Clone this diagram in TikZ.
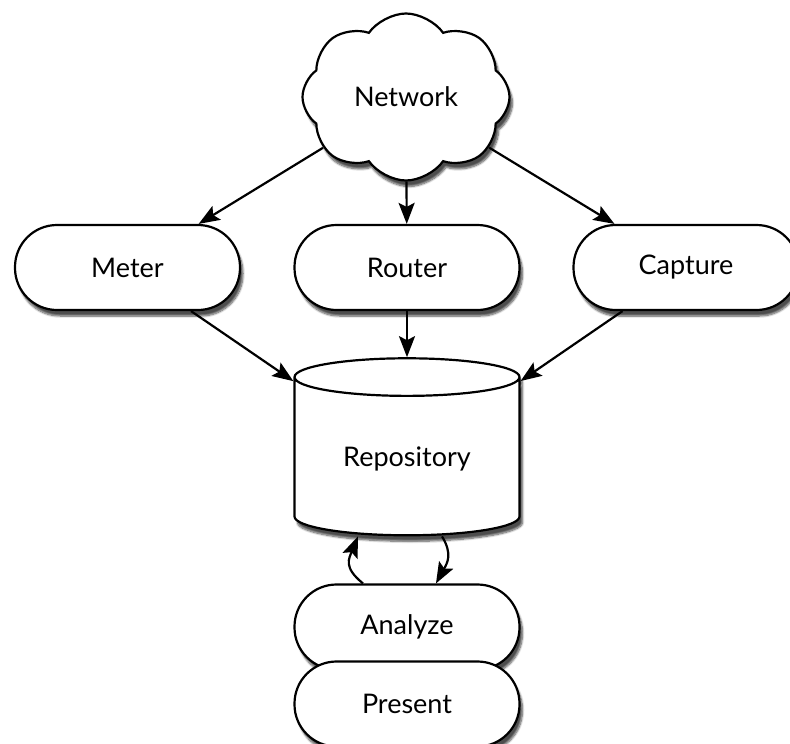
\documentclass[tikz,border=0pt]{standalone}
\usepackage{fontspec}
\setmainfont{Lato}
\usetikzlibrary{arrows.meta, shapes.geometric, shapes.symbols, shadows.blur, positioning}
\tikzset{
    softshadow/.style={blur shadow={shadow xshift=3pt, shadow yshift=-6pt, shadow blur steps=8, shadow opacity=70}},
    pill/.style={draw, line width=2.2pt, fill=white, rectangle, rounded corners=42pt, minimum width=225pt, minimum height=85pt, softshadow},
    store/.style={draw, line width=2.2pt, fill=white, cylinder, shape border rotate=90, aspect=0.28, minimum width=225pt, minimum height=177pt, softshadow},
    puff/.style={draw, line width=2.2pt, fill=white, cloud, cloud puffs=8, cloud puff arc=110, aspect=1.25, minimum width=207pt, minimum height=167pt, softshadow},
    flow/.style={-{Stealth[length=21pt, width=16pt, inset=4pt]}, line width=2.2pt}
}
\newcommand{\stage}[4]{
    \node[pill] (#1) at (#2, #3) {#4};
}
\begin{document}
\begin{tikzpicture}[x=1pt, y=-1pt, font=\fontsize{27}{32}\selectfont]
    \useasboundingbox (0, 0) rectangle (790, 744);
    \node[puff] (net) at (406, 97) {Network};
    \stage{meter}{127.5}{267.5}{Meter}
    \stage{router}{407}{267.5}{Router}
    \stage{capture}{686}{267.5}{Capture}
    \node[store] (repo) at (407, 459) {Repository};
    \stage{analyze}{407}{627}{Analyze}
    \stage{present}{407}{704}{Present}
    \draw[flow]
    (net) edge (meter)
    (net) edge (router)
    (net) edge (capture)
    (meter) edge (repo)
    (router) edge (repo)
    (capture) edge (repo);
    % loop between store and analysis
    \draw[flow] ([xshift=-44pt]analyze.north) .. controls +(-20, -16) and +(-9, 22) .. ([xshift=-49pt]repo.south);
    \draw[flow] ([xshift=35pt]repo.south) .. controls +(11, 18) and +(11, -20) .. ([xshift=29pt]analyze.north);
\end{tikzpicture}
\end{document}
